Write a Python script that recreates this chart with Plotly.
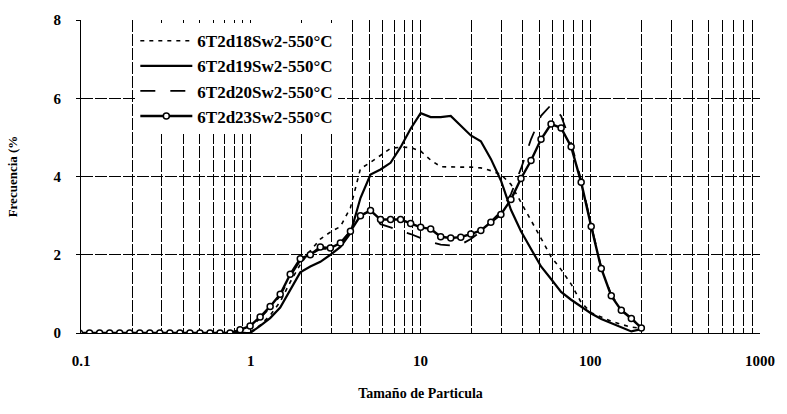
import plotly.graph_objects as go

# Particle size (x) grid
size = [0.098, 0.1123, 0.1287, 0.1475, 0.169, 0.1936, 0.2219, 0.2542, 0.2912, 0.3337,
        0.3824, 0.4381, 0.502, 0.5752, 0.6591, 0.7551, 0.8652, 0.9911, 1.136, 1.301,
        1.491, 1.708, 1.957, 2.243, 2.57, 2.944, 3.374, 3.865, 4.429, 5.075,
        5.814, 6.662, 7.633, 8.746, 10.02, 11.48, 13.15, 15.07, 17.27, 19.79,
        22.67, 25.97, 29.76, 34.1, 39.07, 44.77, 51.29, 58.77, 67.34, 77.16,
        88.41, 101.3, 116.1, 133.0, 152.4, 174.6, 200.0]

d18 = [0]*17 + [0.02, 0.2, 0.45, 0.8, 1.3, 1.75, 2.1, 2.4, 2.58,
                2.72, 3.2, 4.2, 4.36, 4.55, 4.72, 4.75, 4.74, 4.65, 4.42,
                4.25, 4.24, 4.24, 4.24, 4.22, 4.15, 4.05, 3.8, 3.35, 2.9,
                2.42, 1.95, 1.62, 1.25, 0.78, 0.52, 0.4, 0.3, 0.22, 0.15, 0.12]
d19 = [0]*17 + [0.0, 0.18, 0.38, 0.65, 1.1, 1.55, 1.7, 1.82, 2.0,
                2.2, 2.55, 3.45, 4.05, 4.18, 4.35, 4.75, 5.22, 5.62, 5.52,
                5.52, 5.55, 5.3, 5.05, 4.9, 4.45, 3.9, 3.15, 2.6, 2.15,
                1.7, 1.38, 1.05, 0.85, 0.68, 0.5, 0.36, 0.25, 0.14, 0.04, 0.1]
d20 = [0]*16 + [0.05, 0.15, 0.38, 0.65, 0.95, 1.45, 1.85, 2.0, 2.15, 2.15,
                2.3, 2.6, 3.0, 3.12, 2.78, 2.7, 2.6, 2.53, 2.43, 2.33,
                2.26, 2.24, 2.26, 2.4, 2.6, 2.85, 3.1, 3.55, 4.2, 4.95,
                5.55, 5.83, 5.55, 4.85, 3.9, 2.76, 1.67, 0.97, 0.6, 0.38, 0.14]
d23 = [0]*16 + [0.08, 0.18, 0.41, 0.68, 0.99, 1.5, 1.9, 2.0, 2.2, 2.17,
                2.3, 2.6, 3.0, 3.13, 2.9, 2.9, 2.9, 2.8, 2.7, 2.66,
                2.46, 2.43, 2.45, 2.53, 2.62, 2.83, 3.03, 3.41, 3.95, 4.41,
                4.95, 5.34, 5.24, 4.76, 3.85, 2.72, 1.65, 0.95, 0.58, 0.37, 0.13]

names = ["6T2d18Sw2-550°C", "6T2d19Sw2-550°C", "6T2d20Sw2-550°C", "6T2d23Sw2-550°C"]
xticks = [0.1, 1, 10, 100, 1000]
xticktext = ["0.1", "1", "10", "100", "1000"]
yticks = [0, 2, 4, 6, 8]

FONT = "Liberation Serif"

fig = go.Figure()
fig.add_trace(go.Scatter(x=size, y=d18, name=names[0], mode="lines",
                         line=dict(color="black", width=1.6, dash="4px,5px")))
fig.add_trace(go.Scatter(x=size, y=d19, name=names[1], mode="lines",
                         line=dict(color="black", width=2.2)))
fig.add_trace(go.Scatter(x=size, y=d20, name=names[2], mode="lines",
                         line=dict(color="black", width=1.8, dash="longdash")))
fig.add_trace(go.Scatter(x=size, y=d23, name=names[3], mode="lines+markers",
                         line=dict(color="black", width=2.4),
                         marker=dict(symbol="circle", size=6, color="white",
                                     line=dict(color="black", width=1.5))))

GRID_DASH = "12px,2px"
grid = dict(gridcolor="black", gridwidth=1, griddash=GRID_DASH)

fig.update_layout(
    width=787, height=414,
    margin=dict(l=80, r=19, t=13, b=81),
    paper_bgcolor="white", plot_bgcolor="white",
    font=dict(family=FONT, color="black", size=15),
    showlegend=True,
    legend=dict(x=0.08, y=0.99, xanchor="left", yanchor="top",
                bgcolor="white", borderwidth=0,
                font=dict(family=FONT, size=17, color="black", weight="bold"),
                itemwidth=52, tracegroupgap=0),
    xaxis=dict(type="log", range=[-1, 3], tickvals=xticks, ticktext=xticktext,
               showgrid=True, **grid,
               minor=dict(dtick="D1", showgrid=True, gridcolor="black",
                          gridwidth=1, griddash=GRID_DASH, ticks=""),
               showline=True, linecolor="black", linewidth=1,
               ticks="", tickfont=dict(family=FONT, size=15, weight="bold"),
               ticklabelstandoff=14, zeroline=False,
               title=dict(text="Tamaño de Particula", standoff=20,
                          font=dict(family=FONT, size=14, weight="bold"))),
    yaxis=dict(range=[0, 8], tickvals=yticks, showgrid=True, **grid,
               showline=True, linecolor="black", linewidth=1, zeroline=False,
               ticks="outside", ticklen=4, tickcolor="black",
               tickfont=dict(family=FONT, size=15, weight="bold"),
               ticklabelstandoff=12,
               title=dict(text="Frecuencia (%", standoff=32,
                          font=dict(family=FONT, size=13, weight="bold"))),
)

fig.write_html("out.html",
               config={"displayModeBar": False},
               post_script="document.body.style.margin='0';"
                           "document.body.style.overflow='hidden';")
